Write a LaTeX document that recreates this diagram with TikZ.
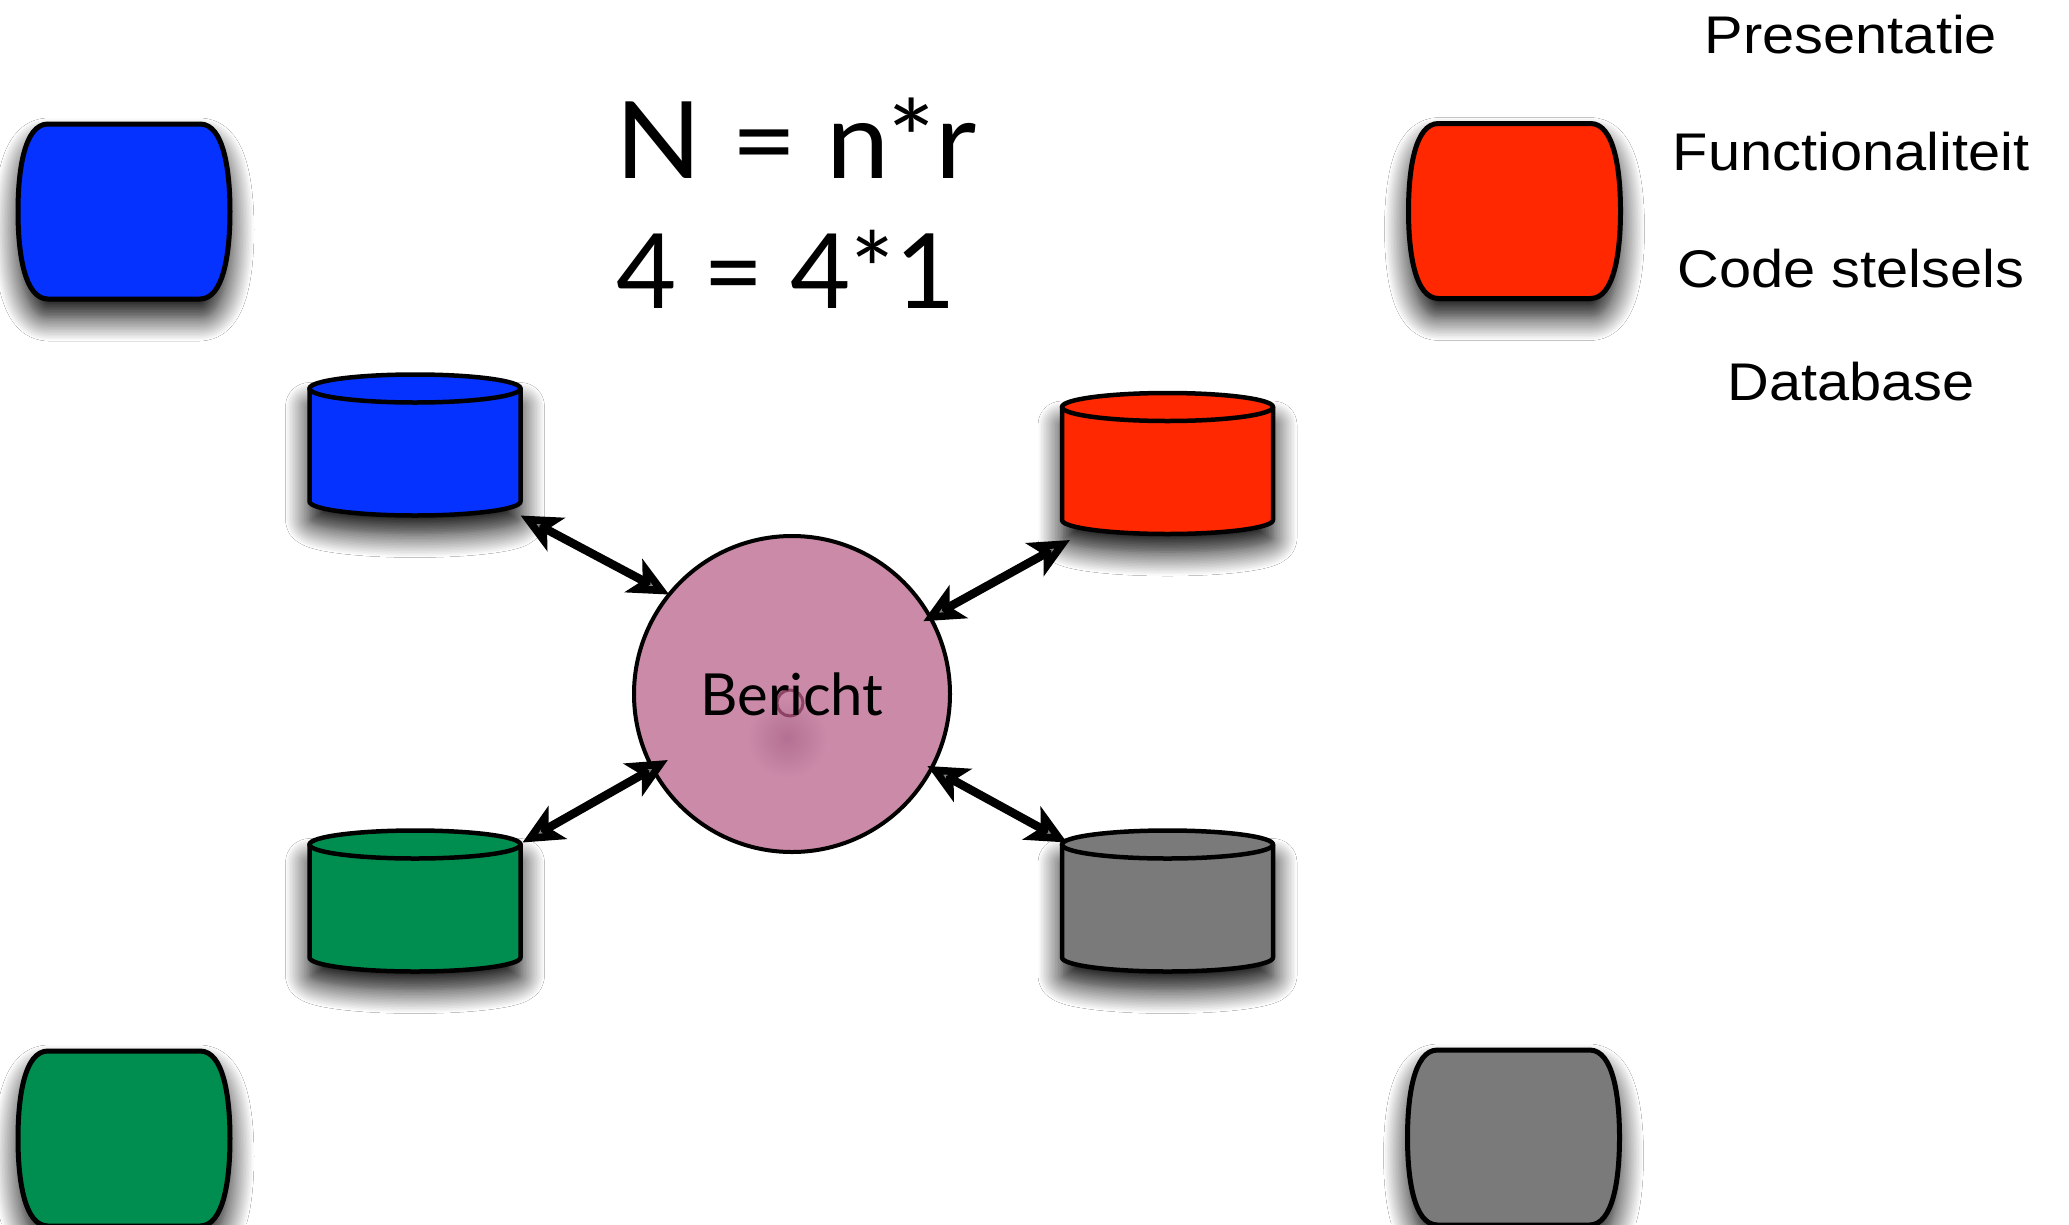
\documentclass[tikz,border=0pt]{standalone}
\usepackage{fontspec}
\usetikzlibrary{arrows.meta,calc,shadows.blur}
\newfontfamily\gillfont{Lato}
\newfontfamily\gillwide[FakeStretch=1.06]{Lato}
\newfontfamily\helvfont[FakeStretch=1.09]{Liberation Sans}
\definecolor{cblue}{RGB}{5,50,255}
\definecolor{cred}{RGB}{255,40,0}
\definecolor{cgreen}{RGB}{0,142,80}
\definecolor{cgray}{RGB}{122,122,122}
\definecolor{cpink}{RGB}{202,138,168}
\definecolor{cmauve}{RGB}{180,112,146}
\definecolor{cring}{RGB}{125,45,80}
\tikzset{
  cylbox/.style={rectangle, inner sep=0pt, outer sep=0pt, minimum width=211pt, minimum height=141pt},
  barrelbox/.style={rectangle, inner sep=0pt, outer sep=0pt, minimum width=212pt, minimum height=175pt},
  softshadow/.style={blur shadow={shadow xshift=0pt, shadow yshift=-18pt, shadow blur radius=24pt, shadow opacity=100, shadow blur steps=16}},
  outline/.style={draw=black, line width=4.5pt, line join=round},
  legend/.style={anchor=base, inner sep=0pt, font=\helvfont\fontsize{53}{60}\selectfont},
  formula/.style={anchor=base, inner sep=0pt},
  headtip/.tip={Stealth[length=40pt, width=37pt, inset=10pt]},
  dbl/.style={line width=8.5pt, headtip-headtip},
}
\newcommand\drawcyl[2]{%
  \path[outline, fill=#2, softshadow]
    ([yshift=-14pt]#1.north west) -- ([yshift=14pt]#1.south west)
    arc[start angle=180, end angle=360, x radius=105.5pt, y radius=14pt]
    -- ([yshift=-14pt]#1.north east) -- cycle;
  \path[outline, fill=#2] ([yshift=-14pt]#1.north) ellipse [x radius=105.5pt, y radius=14pt];
}
\newcommand\drawbarrel[2]{%
  \begin{scope}[shift={(#1.center)}]
  \path[outline, line width=5pt, fill=#2, softshadow]
    (-76,87.5) -- (76,87.5) .. controls (100,87.5) and (106,40) .. (106,0)
    .. controls (106,-40) and (100,-87.5) .. (76,-87.5) -- (-76,-87.5)
    .. controls (-100,-87.5) and (-106,-40) .. (-106,0)
    .. controls (-106,40) and (-100,87.5) .. (-76,87.5) -- cycle;
  \end{scope}
}
\begin{document}
\begin{tikzpicture}[x=1pt, y=-1pt]
\useasboundingbox (0,0) rectangle (2069,1224);
\clip (0,0) rectangle (2069,1224);
\fill[white] (0,0) rectangle (2069,1224);

% corner barrels
\node[barrelbox] (pres) at (124,211.5) {};
\node[barrelbox] (func) at (1514.5,211) {};
\node[barrelbox] (code) at (124,1138.5) {};
\node[barrelbox] (dbase) at (1513.5,1137.5) {};
\drawbarrel{pres}{cblue}
\drawbarrel{func}{cred}
\drawbarrel{code}{cgreen}
\drawbarrel{dbase}{cgray}

% cylinders
\node[cylbox] (cylB) at (415,445) {};
\node[cylbox] (cylR) at (1167.5,463.5) {};
\node[cylbox] (cylG) at (415,901) {};
\node[cylbox] (cylY) at (1167.5,901) {};
\drawcyl{cylB}{cblue}
\drawcyl{cylR}{cred}
\drawcyl{cylG}{cgreen}
\drawcyl{cylY}{cgray}

% central circle
\node[circle, minimum size=316pt, inner sep=0pt, outer sep=0pt, draw=black, line width=4pt, fill=cpink] (bericht) at (792,694) {};
\shade[inner color=cmauve, outer color=cpink] (787,738) circle (40);
\draw[cring, line width=3pt, opacity=0.75] (790,703) circle (13);
\node[anchor=base, inner sep=0pt, font=\gillfont\fontsize{58}{66}\selectfont, text=black] (btext) at (792,715) {Bericht};

% arrows
\draw[dbl] (cylB.south east) -- ($(bericht.center)!1!(bericht.141.6)$);
\draw[dbl] ([shift={(8pt,-6pt)}]cylR.south west) -- ($(bericht.center)!0.95!(bericht.29.1)$);
\draw[dbl] ([shift={(2pt,-12pt)}]cylG.north east) -- ($(bericht.center)!0.89!(bericht.208.3)$);
\draw[dbl] ([shift={(5pt,-12pt)}]cylY.north west) -- ($(bericht.center)!0.97!(bericht.332.8)$);

% formula
\node[formula, font=\gillwide\fontsize{107}{120}\selectfont] (f1) at (796,178) {N = n*r};
\node[formula, font=\gillfont\fontsize{104}{120}\selectfont] (f2) at (786,308) {4 = 4*1};

% legend
\node[legend] (l1) at (1851,53) {Presentatie};
\node[legend] (l2) at (1851,170) {Functionaliteit};
\node[legend] (l3) at (1851,287) {Code stelsels};
\node[legend] (l4) at (1851,400) {Database};
\end{tikzpicture}
\end{document}
